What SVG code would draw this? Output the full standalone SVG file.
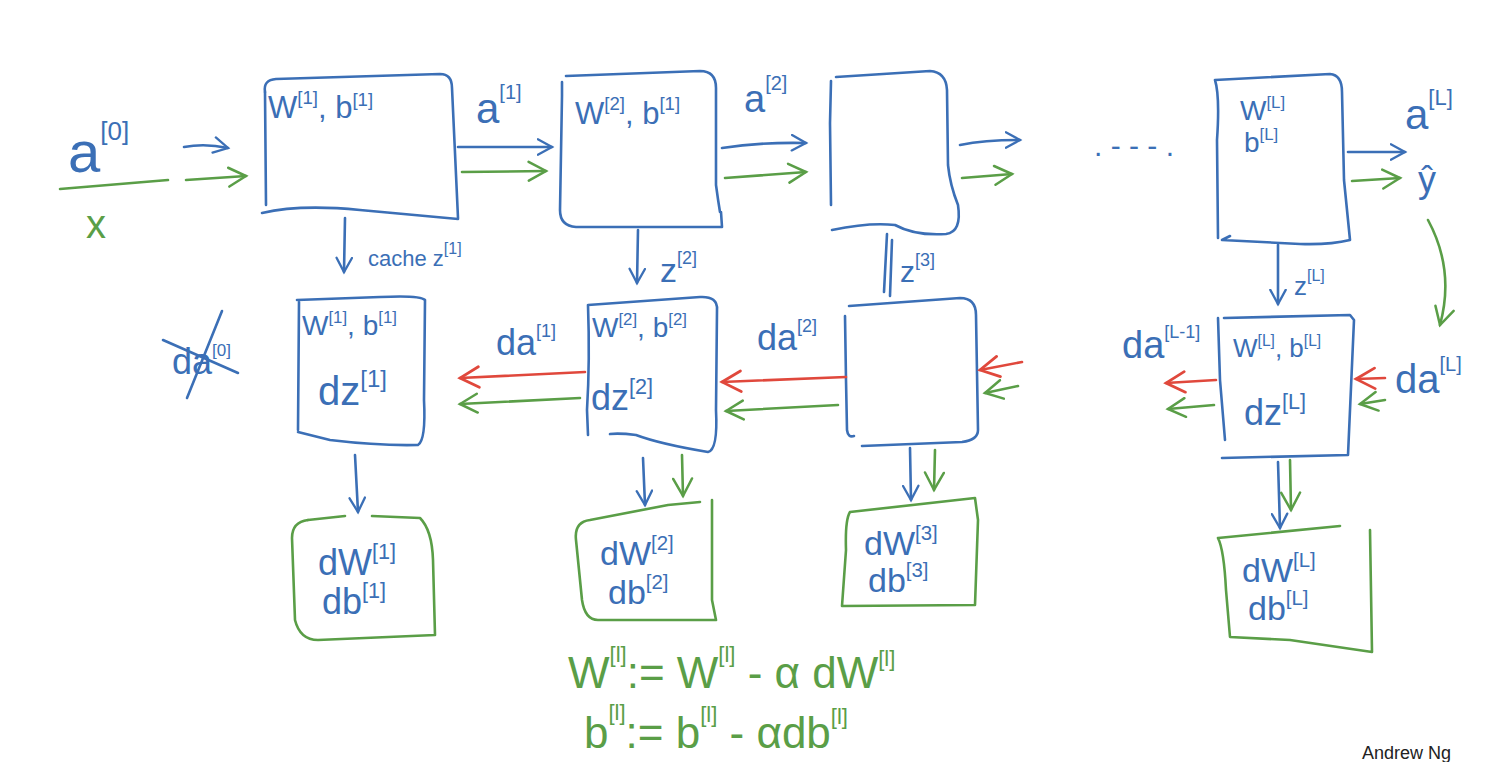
<svg xmlns="http://www.w3.org/2000/svg" width="1500" height="762" viewBox="0 0 1500 762">
<style>
.b{stroke:#3b6fb6;fill:none;stroke-width:2.6;stroke-linecap:round;stroke-linejoin:round}
.g{stroke:#5a9e47;fill:none;stroke-width:2.6;stroke-linecap:round;stroke-linejoin:round}
.r{stroke:#e0483c;fill:none;stroke-width:2.6;stroke-linecap:round;stroke-linejoin:round}
text{font-family:"Liberation Sans","DejaVu Sans",sans-serif}
.tb{fill:#3b6fb6}
.tg{fill:#5a9e47}
.s{font-size:60%}
</style>
<defs>
<marker id="ab" viewBox="0 0 14 14" refX="12" refY="7" markerWidth="18" markerHeight="18" markerUnits="userSpaceOnUse" orient="auto"><path d="M1,1 L12,7 L1,13" fill="none" stroke="#3b6fb6" stroke-width="1.8" stroke-linecap="round"/></marker>
<marker id="ag" viewBox="0 0 14 14" refX="12" refY="7" markerWidth="22" markerHeight="22" markerUnits="userSpaceOnUse" orient="auto"><path d="M1,1 L12,7 L1,13" fill="none" stroke="#5a9e47" stroke-width="1.6" stroke-linecap="round"/></marker>
<marker id="ar" viewBox="0 0 14 14" refX="12" refY="7" markerWidth="24" markerHeight="24" markerUnits="userSpaceOnUse" orient="auto"><path d="M1,1 L12,7 L1,13" fill="none" stroke="#e0483c" stroke-width="1.6" stroke-linecap="round"/></marker>
</defs>
<rect width="1500" height="762" fill="#ffffff"/>

<!-- forward nodes -->
<g id="f1">
<path class="b" d="M265,92 Q263,80 276,79 L440,74 Q452,74 452,88 L458,218"/>
<path class="b" d="M265,92 L266,205 M262,213 Q300,204 360,210 L458,219"/>
<text class="tb" x="268" y="118" font-size="31">W<tspan class="s" dy="-14">[1]</tspan><tspan dy="14">, b</tspan><tspan class="s" dy="-12">[1]</tspan></text>
</g>
<g id="f2">
<path class="b" d="M562,82 L562,96 L560,210 Q560,226 576,227 L722,227 L721,212 M566,76 L700,71 Q716,71 716,88 L716,185 Q718,200 720,212"/>
<text class="tb" x="575" y="124" font-size="31">W<tspan class="s" dy="-14">[2]</tspan><tspan dy="14">, b</tspan><tspan class="s" dy="-14">[1]</tspan></text>
</g>
<g id="f3">
<path class="b" d="M831,81 L830,123 L831,205 M836,77 L930,71 Q946,72 947,90 L948,165 Q950,185 958,205 Q962,232 946,234 Q915,236 895,225 Q870,222 832,230"/>
</g>
<g id="fL">
<path class="b" d="M1215,80 L1330,74 Q1342,75 1342,92 L1344,180 L1350,240 Q1330,245 1300,244 L1222,240 L1230,236 M1215,80 Q1220,96 1217,140 L1218,238"/>
<text class="tb" x="1240" y="120" font-size="28">W<tspan class="s" dy="-12">[L]</tspan></text>
<text class="tb" x="1244" y="152" font-size="28">b<tspan class="s" dy="-12">[L]</tspan></text>
</g>

<!-- backward nodes -->
<g id="bk1">
<path class="b" d="M297,300 L380,297 Q420,295 425,300 L424,400 Q426,440 418,445 Q380,446 330,440 L298,432 M299,302 L298,430"/>
<text class="tb" x="302" y="335" font-size="28">W<tspan class="s" dy="-12">[1]</tspan><tspan dy="12">, b</tspan><tspan class="s" dy="-12">[1]</tspan></text>
<text class="tb" x="318" y="405" font-size="40">dz<tspan class="s" dy="-18">[1]</tspan></text>
</g>
<g id="bk2">
<path class="b" d="M588,305 L700,297 Q718,296 717,310 L716,410 Q718,450 708,452 Q660,444 636,435 Q620,433 610,434 M588,305 Q590,360 587,410 L588,435"/>
<text class="tb" x="592" y="337" font-size="28">W<tspan class="s" dy="-12">[2]</tspan><tspan dy="12">, b</tspan><tspan class="s" dy="-12">[2]</tspan></text>
<text class="tb" x="591" y="410" font-size="36">dz<tspan class="s" dy="-16">[2]</tspan></text>
</g>
<g id="bk3">
<path class="b" d="M849,306 L960,298 Q976,298 976,315 L978,430 Q978,440 962,442 L862,446 M845,316 L846,380 L847,430 Q848,438 854,436"/>
</g>
<g id="bkL">
<path class="b" d="M1224,318 L1350,315 L1354,320 L1348,455 L1222,458 M1218,318 L1220,380 L1225,440"/>
<text class="tb" x="1233" y="357" font-size="26">W<tspan class="s" dy="-11">[L]</tspan><tspan dy="11">, b</tspan><tspan class="s" dy="-11">[L]</tspan></text>
<text class="tb" x="1244" y="425" font-size="36">dz<tspan class="s" dy="-16">[L]</tspan></text>
</g>

<!-- gradient nodes -->
<g id="gd1">
<path class="g" d="M308,520 Q292,522 292,538 L295,620 Q300,640 318,640 L435,635 L433,560 Q432,530 420,518 L372,516"/>
<path class="g" d="M308,520 L345,516"/>
<text class="tb" x="318" y="575" font-size="36">dW<tspan class="s" dy="-16">[1]</tspan></text>
<text class="tb" x="322" y="614" font-size="36">db<tspan class="s" dy="-16">[1]</tspan></text>
</g>
<g id="gd2">
<path class="g" d="M590,520 L668,505 L700,502 M712,500 L712,600 L716,620 L598,620 Q585,620 582,600 L576,540 Q574,522 590,520"/>
<text class="tb" x="600" y="565" font-size="34">dW<tspan class="s" dy="-15">[2]</tspan></text>
<text class="tb" x="608" y="604" font-size="34">db<tspan class="s" dy="-15">[2]</tspan></text>
</g>
<g id="gd3">
<path class="g" d="M850,512 L975,498 L978,520 L975,605 L842,606 L846,550 Q845,520 850,512"/>
<text class="tb" x="864" y="555" font-size="34">dW<tspan class="s" dy="-15">[3]</tspan></text>
<text class="tb" x="868" y="592" font-size="34">db<tspan class="s" dy="-15">[3]</tspan></text>
</g>
<g id="gdL">
<path class="g" d="M1218,538 L1340,526 M1370,530 L1372,652 L1290,640 L1230,637 L1226,590 Q1224,550 1218,538"/>
<text class="tb" x="1242" y="582" font-size="34">dW<tspan class="s" dy="-15">[L]</tspan></text>
<text class="tb" x="1248" y="620" font-size="34">db<tspan class="s" dy="-15">[L]</tspan></text>
</g>

<!-- free labels -->
<g id="labels">
<text class="tb" x="68" y="172" font-size="58">a<tspan font-size="26" dy="-32">[0]</tspan></text>
<path class="g" d="M60,189 L168,180"/>
<text class="tg" x="86" y="238" font-size="40">x</text>
<text class="tb" x="476" y="123" font-size="42">a<tspan font-size="20" dy="-24">[1]</tspan></text>
<text class="tb" x="744" y="112" font-size="38">a<tspan font-size="20" dy="-22">[2]</tspan></text>
<text class="tb" x="1405" y="129" font-size="42">a<tspan font-size="22" dy="-24">[L]</tspan></text>
<text class="tb" x="1418" y="192" font-size="36">ŷ</text>
<text class="tb" x="368" y="266" font-size="22">cache z<tspan font-size="16" dy="-12">[1]</tspan></text>
<text class="tb" x="660" y="282" font-size="34">z<tspan font-size="18" dy="-18">[2]</tspan></text>
<text class="tb" x="900" y="282" font-size="30">z<tspan font-size="18" dy="-16">[3]</tspan></text>
<text class="tb" x="1294" y="295" font-size="26">z<tspan font-size="16" dy="-14">[L]</tspan></text>
<text class="tb" x="1094" y="156" font-size="30">. - - - .</text>
<text class="tb" x="496" y="355" font-size="36">da<tspan font-size="18" dy="-18">[1]</tspan></text>
<text class="tb" x="757" y="350" font-size="36">da<tspan font-size="18" dy="-18">[2]</tspan></text>
<text class="tb" x="1122" y="358" font-size="38">da<tspan font-size="18" dy="-20">[L-1]</tspan></text>
<text class="tb" x="1395" y="393" font-size="40">da<tspan font-size="20" dy="-22">[L]</tspan></text>
<text class="tb" x="172" y="374" font-size="36">da<tspan font-size="17" dy="-18">[0]</tspan></text>
<path class="b" d="M163,340 L238,373 M222,311 L187,398"/>
<text class="tg" x="568" y="688" font-size="44">W<tspan font-size="22" dy="-26">[l]</tspan><tspan dy="26">:= W</tspan><tspan font-size="22" dy="-26">[l]</tspan><tspan dy="26"> - α dW</tspan><tspan font-size="22" dy="-22">[l]</tspan></text>
<text class="tg" x="584" y="748" font-size="44">b<tspan font-size="22" dy="-28">[l]</tspan><tspan dy="28">:= b</tspan><tspan font-size="22" dy="-26">[l]</tspan><tspan dy="26"> - αdb</tspan><tspan font-size="22" dy="-24">[l]</tspan></text>
<text x="1362" y="759" font-size="18" fill="#222">Andrew Ng</text>
</g>

<!-- connectors -->
<g id="connectors">
<path class="b" d="M184,147 Q205,143 228,148" marker-end="url(#ab)"/>
<path class="g" d="M186,180 L246,176" marker-end="url(#ag)"/>
<path class="b" d="M458,147 L552,147" marker-end="url(#ab)"/>
<path class="g" d="M462,172 L546,171" marker-end="url(#ag)"/>
<path class="b" d="M722,148 Q760,142 806,143" marker-end="url(#ab)"/>
<path class="g" d="M725,178 L806,172" marker-end="url(#ag)"/>
<path class="b" d="M960,145 Q985,140 1020,140" marker-end="url(#ab)"/>
<path class="g" d="M962,178 L1012,174" marker-end="url(#ag)"/>
<path class="b" d="M1348,152 L1405,152" marker-end="url(#ab)"/>
<path class="g" d="M1352,181 L1400,178" marker-end="url(#ag)"/>
<path class="g" d="M1428,220 Q1455,270 1440,325" marker-end="url(#ag)"/>
<path class="b" d="M345,218 L344,272" marker-end="url(#ab)"/>
<path class="b" d="M638,230 L637,283" marker-end="url(#ab)"/>
<path class="b" d="M887,234 L884,292 M892,240 L890,296"/>
<path class="b" d="M1278,245 L1278,304" marker-end="url(#ab)"/>
<path class="r" d="M585,372 Q520,375 460,378" marker-end="url(#ar)"/>
<path class="g" d="M580,398 L460,404" marker-end="url(#ag)"/>
<path class="r" d="M846,377 L722,382" marker-end="url(#ar)"/>
<path class="g" d="M838,405 L726,411" marker-end="url(#ag)"/>
<path class="r" d="M1022,362 L980,370" marker-end="url(#ar)"/>
<path class="g" d="M1018,386 L985,393" marker-end="url(#ag)"/>
<path class="r" d="M1216,380 L1166,383" marker-end="url(#ar)"/>
<path class="g" d="M1214,405 L1168,409" marker-end="url(#ag)"/>
<path class="r" d="M1385,378 L1356,379" marker-end="url(#ar)"/>
<path class="g" d="M1385,400 L1360,404" marker-end="url(#ag)"/>
<path class="b" d="M355,455 L358,512" marker-end="url(#ab)"/>
<path class="b" d="M643,458 L645,505" marker-end="url(#ab)"/>
<path class="g" d="M682,455 L683,496" marker-end="url(#ag)"/>
<path class="b" d="M910,448 L911,500" marker-end="url(#ab)"/>
<path class="g" d="M935,450 L934,490" marker-end="url(#ag)"/>
<path class="b" d="M1278,462 L1280,528" marker-end="url(#ab)"/>
<path class="g" d="M1290,460 L1291,510" marker-end="url(#ag)"/>
</g>
</svg>
